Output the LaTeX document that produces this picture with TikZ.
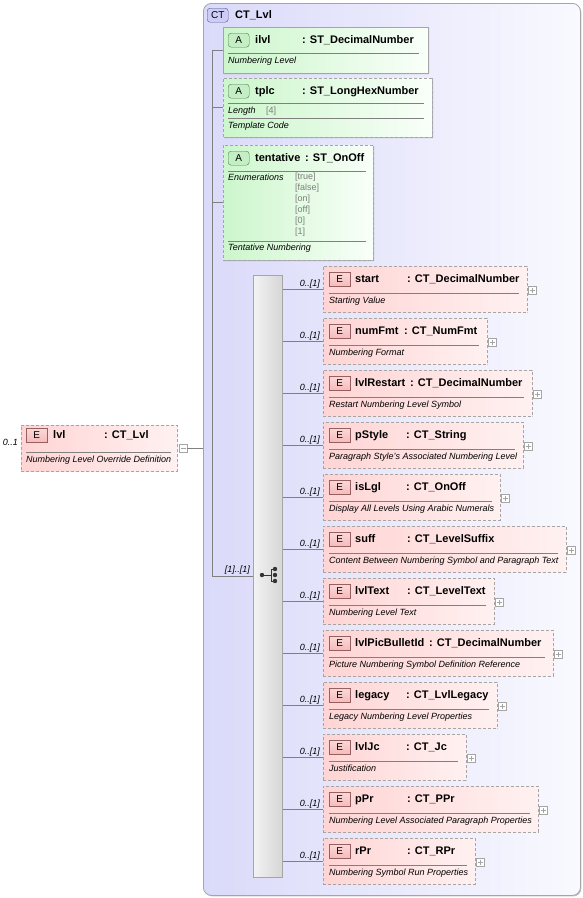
\documentclass[tikz,border=0pt]{standalone}
\usepackage{fontspec}
\setmainfont{Liberation Sans}
\usepackage{xcolor}
\usepackage{tikz}
\usetikzlibrary{positioning}
\usetikzlibrary{shapes.misc}
\usetikzlibrary{shadows}
\definecolor{lineg}{RGB}{128,128,128}
\definecolor{boxg}{RGB}{165,165,165}
\definecolor{ctleft}{RGB}{218,218,250}
\definecolor{ctright}{RGB}{249,249,255}
\definecolor{elpinkl}{RGB}{255,212,212}
\definecolor{elpinkr}{RGB}{255,241,241}
\definecolor{atgreenl}{RGB}{204,246,204}
\definecolor{atgreenr}{RGB}{249,255,249}
\definecolor{ebadgefill}{RGB}{246,186,186}
\definecolor{ebadgedraw}{RGB}{150,96,96}
\definecolor{abadgefill}{RGB}{196,238,196}
\definecolor{abadgedraw}{RGB}{86,122,86}
\definecolor{ctbadgefill}{RGB}{204,204,246}
\definecolor{ctbadgedraw}{RGB}{86,86,140}
\definecolor{enumgray}{RGB}{125,125,125}
\tikzset{%
  boxshadow/.style={drop shadow={shadow xshift=1pt,shadow yshift=-1pt,fill=black,opacity=0.25}}
}
\tikzset{%
  ctbox/.style={rectangle,rounded corners=8pt,draw=boxg,line width=0.8pt,left color=ctleft,right color=ctright,inner sep=0pt,boxshadow}
}
\tikzset{%
  elbox/.style={rectangle,draw=boxg,line width=0.8pt,dash pattern=on 3pt off 2pt,left color=elpinkl,right color=elpinkr,inner sep=0pt,minimum height=46pt,boxshadow}
}
\tikzset{%
  atbox/.style={chamfered rectangle,chamfered rectangle corners={north west,south west},chamfered rectangle xsep=4pt,chamfered rectangle ysep=4pt,draw=boxg,line width=0.8pt,left color=atgreenl,right color=atgreenr,inner sep=0pt,boxshadow}
}
\tikzset{%
  seqbar/.style={rectangle,draw=boxg,line width=0.8pt,left color=gray!10,middle color=white,right color=gray!32,inner sep=0pt,boxshadow}
}
\tikzset{%
  ebadge/.style={rectangle,draw=ebadgedraw,top color=ebadgefill!55,bottom color=ebadgefill,minimum width=21pt,minimum height=14pt,inner sep=0pt,font=\fontsize{10}{12}\selectfont},
  abadge/.style={rectangle,rounded corners=3pt,draw=abadgedraw,fill=abadgefill,minimum width=21pt,minimum height=14pt,inner sep=0pt,font=\fontsize{10}{12}\selectfont},
  ctbadge/.style={rectangle,rounded corners=3pt,draw=ctbadgedraw,fill=ctbadgefill,minimum width=21pt,minimum height=14pt,inner sep=0pt,font=\fontsize{10}{12}\selectfont}
}
\tikzset{%
  namet/.style={anchor=west,inner sep=0pt,text height=8pt,text depth=2pt,font=\fontsize{11}{13}\selectfont\bfseries},
  desct/.style={anchor=west,inner sep=0pt,text height=6.5pt,text depth=2pt,font=\fontsize{9}{11}\selectfont\itshape},
  cardt/.style={anchor=east,inner sep=0pt,font=\fontsize{9}{11}\selectfont\itshape},
  enumt/.style={anchor=west,inner sep=0pt,text=enumgray,font=\fontsize{9}{11}\selectfont},
  sepline/.style={draw=lineg,line width=0.6pt},
  conn/.style={draw=lineg,line width=0.7pt},
  plusbox/.style={rectangle,draw=boxg,fill=white,minimum size=8pt,inner sep=0pt,line width=0.5pt,
    path picture={\draw[boxg,line width=0.5pt] ([xshift=1.5pt]path picture bounding box.west) -- ([xshift=-1.5pt]path picture bounding box.east)
      ([yshift=1.5pt]path picture bounding box.south) -- ([yshift=-1.5pt]path picture bounding box.north);}},
  minusbox/.style={rectangle,draw=boxg,fill=white,minimum size=8pt,inner sep=0pt,line width=0.5pt,
    path picture={\draw[boxg,line width=0.5pt] ([xshift=1.5pt]path picture bounding box.west) -- ([xshift=-1.5pt]path picture bounding box.east);}}
}
\newcommand\childel[7]{
    \node[elbox,minimum width=#3pt-323pt,anchor=north west](#1) at (323,#2){};
    \node[ebadge,anchor=north west](#1badge) at (329,#2+6){E};
    \node[namet](#1name) at (355,#2+13){#4};
    \node[namet](#1type) at (#5,#2+13){: #6};
    \draw[sepline] (329,#2+27) -- (#3-8,#2+27);
    \node[desct](#1desc) at (329,#2+35){#7};
    \node[plusbox](#1plus) at (#3+5,#2+24){};
    \draw[conn] (seq.east |- #1.west) -- (#1.west);
    \node[cardt](#1card) at (320,#2+18){0..[1]};
}

\begin{document}
\begin{tikzpicture}[x=1pt,y=-1pt]
            \useasboundingbox (0,0) rectangle (583,898);

            \node[elbox,minimum width=156pt,anchor=north west](lvl) at (21,425){};
            \node[ebadge,anchor=north west](lvlbadge) at (26,428){E};
            \node[namet](lvlname) at (53,435){lvl};
            \node[namet](lvltype) at (104,435){: CT\_Lvl};
            \draw[sepline] (26,452) -- (171,452);
            \node[desct](lvldesc) at (26,460){Numbering Level Override Definition};
            \node[cardt](lvlcard) at (18,442){0..1};
            \node[minusbox](lvlminus) at (183,448){};

            \node[ctbox,anchor=north west,minimum width=377pt,minimum height=892pt](ctbox) at (203,3){};
            \node[ctbadge,anchor=north west](ctbadge) at (207,8){CT};
            \node[namet](cttitle) at (235,15){CT\_Lvl};
            \draw[conn] (lvlminus.east) -- (lvlminus.east -| ctbox.west);

            \node[atbox,anchor=north west,minimum width=205pt,minimum height=46pt](ilvl) at (223,27){};
            \node[abadge,anchor=north west](ilvlbadge) at (228,33){A};
            \node[namet](ilvlname) at (255,40){ilvl};
            \node[namet](ilvltype) at (302,40){: ST\_DecimalNumber};
            \draw[sepline] (228,53) -- (419,53);
            \node[desct](ilvldesc) at (228,61){Numbering Level};

            \node[atbox,dash pattern=on 3pt off 2pt,anchor=north west,minimum width=209pt,minimum height=59pt](tplc) at (223,78){};
            \node[abadge,anchor=north west](tplcbadge) at (228,84){A};
            \node[namet](tplcname) at (255,91){tplc};
            \node[namet](tplctype) at (302,91){: ST\_LongHexNumber};
            \draw[sepline] (228,103) -- (424,103);
            \node[desct](tplclen) at (228,111){Length};
            \node[enumt](tplclenval) at (266,111){[4]};
            \draw[sepline] (228,118) -- (424,118);
            \node[desct](tplcdesc) at (228,126){Template Code};

            \node[atbox,dash pattern=on 3pt off 2pt,anchor=north west,minimum width=150pt,minimum height=115pt](tentative) at (223,145){};
            \node[abadge,anchor=north west](tentativebadge) at (228,151){A};
            \node[namet](tentativename) at (255,158){tentative};
            \node[namet](tentativetype) at (305,158){: ST\_OnOff};
            \draw[sepline] (228,171) -- (366,171);
            \node[desct](tentativeenum) at (228,178){Enumerations};
            \node[enumt](enumtrue) at (295,177){[true]};
            \node[enumt](enumfalse) at (295,188){[false]};
            \node[enumt](enumon) at (295,199){[on]};
            \node[enumt](enumoff) at (295,210){[off]};
            \node[enumt](enumzero) at (295,221){[0]};
            \node[enumt](enumone) at (295,232){[1]};
            \draw[sepline] (228,241) -- (366,241);
            \node[desct](tentativedesc) at (228,248){Tentative Numbering};

            \node[seqbar,anchor=north west,minimum width=29pt,minimum height=602pt](seq) at (253,275){};
            \draw[line width=0.8pt,black!80] (262,575) -- (271,575) (271,569) -- (271,581)
              (271,569) -- (275,569) (271,581) -- (275,581);
            \fill[black!80] (262,575) circle (2.2pt) (275,569) circle (2.2pt) (275,575) circle (2.2pt) (275,581) circle (2.2pt);

            \coordinate (stem) at (212.5,50);
            \draw[conn] (ilvl.west) -- (ilvl.west -| stem) -- (stem |- seq.west) -- (seq.west);
            \draw[conn] (tplc.west) -- (tplc.west -| stem);
            \draw[conn] (tentative.west) -- (tentative.west -| stem);
            \node[cardt](seqcard) at (250,570){[1]..[1]};

            \childel{start}{266}{527}{start}{407}{CT\_DecimalNumber}{Starting Value}
            \childel{numFmt}{318}{487}{numFmt}{404}{CT\_NumFmt}{Numbering Format}
            \childel{lvlRestart}{370}{532}{lvlRestart}{410}{CT\_DecimalNumber}{Restart Numbering Level Symbol}
            \childel{pStyle}{422}{523}{pStyle}{406}{CT\_String}{Paragraph Style's Associated Numbering Level}
            \childel{isLgl}{474}{500}{isLgl}{406}{CT\_OnOff}{Display All Levels Using Arabic Numerals}
            \childel{suff}{526}{566}{suff}{407}{CT\_LevelSuffix}{Content Between Numbering Symbol and Paragraph Text}
            \childel{lvlText}{578}{494}{lvlText}{407}{CT\_LevelText}{Numbering Level Text}
            \childel{lvlPicBulletId}{630}{553}{lvlPicBulletId}{429}{CT\_DecimalNumber}{Picture Numbering Symbol Definition Reference}
            \childel{legacy}{682}{497}{legacy}{406}{CT\_LvlLegacy}{Legacy Numbering Level Properties}
            \childel{lvlJc}{734}{466}{lvlJc}{406}{CT\_Jc}{Justification}
            \childel{pPr}{786}{538}{pPr}{407}{CT\_PPr}{Numbering Level Associated Paragraph Properties}
            \childel{rPr}{838}{475}{rPr}{407}{CT\_RPr}{Numbering Symbol Run Properties}
        \end{tikzpicture}
\end{document}
